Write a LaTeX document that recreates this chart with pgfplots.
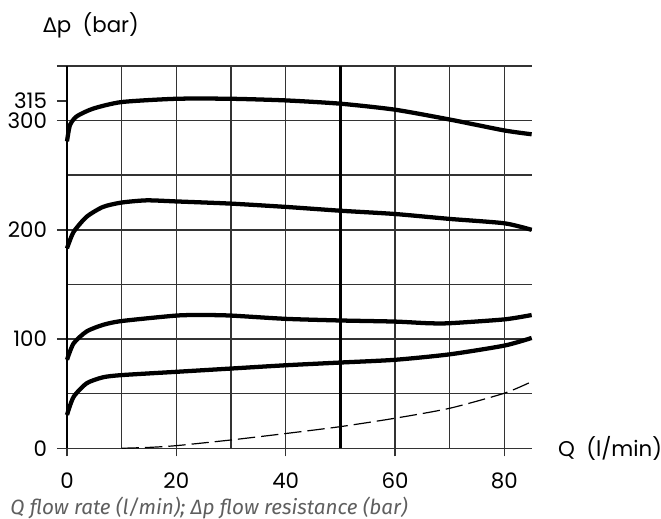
\documentclass[border=0pt]{standalone}
\usepackage{fontspec}
\usepackage{pgfplots}
\pgfplotsset{compat=1.18}
\newfontfamily\lblfont{Poppins}
\newfontfamily\grkfont{DejaVu Sans}
\newfontfamily\capfont{Fira Sans}
\definecolor{capgray}{RGB}{95,95,95}

\begin{document}
\begin{tikzpicture}
  % 1 px of the reference = 0.75pt
  \useasboundingbox (-50.25pt,-53pt) rectangle (445.5pt,336.2pt);
  \begin{axis}[
      at={(0,0)}, anchor=south west,
      scale only axis, width=348.5pt, height=286.7pt,
      xmin=0, xmax=85, ymin=0, ymax=350,
      axis line style={draw=none},
      tick pos=left, tick align=outside,
      xtick={0,10,...,80}, ytick={0,50,...,350},
      xticklabels={}, yticklabels={},
      major tick length=0pt,
      grid=major, grid style={black!80, line width=1.1pt},
      extra x ticks={0,20,40,60,80},
      extra x tick labels={0,20,40,60,80},
      extra x tick style={grid=none, major tick length=6pt,
        tick style={black!80, line width=1.1pt}},
      extra y ticks={0,100,200,300,318,350},
      extra y tick labels={0,100,200,300,315,},
      extra y tick style={grid=none, major tick length=7.5pt,
        tick style={black!80, line width=1.1pt}},
      ticklabel style={font=\lblfont\fontsize{16}{18}\selectfont},
      /pgf/number format/assume math mode=true,
      xticklabel style={yshift=-9pt},
      yticklabel style={xshift=-4pt},
      clip=false,
    ]
    % heavier grid lines at Q = 0 and Q = 50
    \addplot[black, line width=2pt] coordinates {(0,0) (0,350)};
    \addplot[black, line width=1.8pt] coordinates {(50,0) (50,350)};

    \addplot[black, line width=3.2pt, smooth, tension=0.4] coordinates {
      (0,281) (0.55,296) (1.8,304) (4.8,311) (10,317) (20,320) (30,320)
      (40,318.5) (50,315.5) (60,310) (70,301) (80,291) (85,287.5)};
    \addplot[black, line width=3.2pt, smooth, tension=0.4] coordinates {
      (0,183) (1.2,198) (3.6,212) (6.6,221) (10,225) (14.6,227) (20,226)
      (30,224) (40,221) (50,217.5) (60,214.5) (70,210) (80,206) (85,200)};
    \addplot[black, line width=3.2pt, smooth, tension=0.4] coordinates {
      (0,81) (1.2,96) (3.6,107) (6.6,113) (10,116.5) (20,121.5) (25,122)
      (30,121.5) (40,118.5) (50,117) (60,116) (66,114.5) (70,114.5)
      (80,118) (85,122)};
    \addplot[black, line width=3.2pt, smooth, tension=0.4] coordinates {
      (0,30.5) (1.2,47) (3.6,59.5) (6.6,65) (10,67) (20,70) (30,73)
      (40,76) (50,78.5) (60,81) (70,86) (80,94) (85,101)};
    \addplot[black, line width=0.9pt, smooth, tension=0.4,
      dash pattern=on 13pt off 4.5pt] coordinates {
      (10,0) (15,0.8) (20,2.4) (30,7.6) (40,13.5) (50,19.8) (60,27.5)
      (70,36.6) (80,50.4) (85,61)};

    \node[anchor=west, inner sep=0pt, font=\lblfont\fontsize{16}{18}\selectfont]
      at (axis cs:-4.4,387.6) {{\grkfont\fontsize{15}{18}\selectfont Δ}p\ \ (bar)};
    \node[anchor=west, inner sep=0pt, font=\lblfont\fontsize{16}{18}\selectfont]
      at (axis cs:89.8,0) {Q\ \ (l/min)};
    \node[anchor=west, inner sep=0pt, text=capgray,
      font=\capfont\itshape\fontsize{15.5}{18}\selectfont]
      at (axis cs:-10.4,-54.7) {Q flow rate (l/min); Δp flow resistance (bar)};
  \end{axis}
\end{tikzpicture}
\end{document}
